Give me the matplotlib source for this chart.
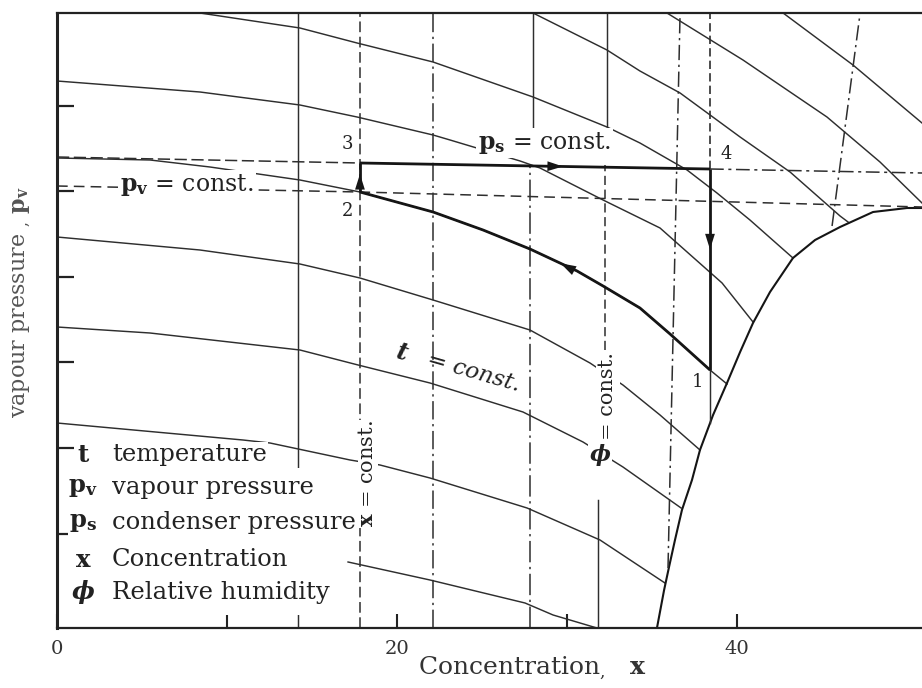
import matplotlib
matplotlib.use("Agg")
import matplotlib.pyplot as plt
from matplotlib.patches import Rectangle

plt.rcParams['font.family'] = ['DejaVu Serif']
plt.rcParams['mathtext.fontset'] = 'dejavuserif'

# ---------------- data (concentration x, vapour pressure in arbitrary units) ----------------
x_major = [0, 20, 40]
x_major_labels = ['0', '20', '40']
x_minor = [10, 30]
p_ticks = [19.45, 28.0, 36.55, 45.1, 53.65, 62.2]
x_range = (0, 50.88)
p_range = (10.0, 71.5)

# isotherms t = const
iso1_x = [5.47, 8.41, 14.29, 17.65, 22.12, 28.00, 32.35, 34.29, 37.06, 38.82, 40.76, 43.29]
iso1_y = [72.2, 71.5, 70.0, 68.5, 66.6, 63.1, 60.1, 58.5, 55.8, 53.5, 50.8, 47.0]
iso2_x = [0, 8.41, 14.29, 17.65, 22.12, 23.12, 27.24, 28.41, 32.12, 35.47, 39.12, 40.94]
iso2_y = [64.7, 63.6, 62.3, 61.1, 59.3, 58.8, 56.7, 56.0, 52.8, 50.0, 44.5, 40.6]
iso3_x = [0, 5.47, 9.00, 14.29, 17.82, 22.12, 25.06, 27.82, 30.59, 32.12, 34.29, 36.06, 38.41, 39.41]
iso3_y = [57.0, 56.8, 56.1, 54.8, 53.6, 51.6, 49.8, 47.9, 45.7, 44.2, 42.0, 39.4, 35.8, 34.4]
iso4_x = [0, 8.41, 14.29, 17.82, 22.12, 27.82, 31.35, 33.29, 35.47, 37.82]
iso4_y = [49.1, 47.8, 46.4, 45.0, 42.8, 39.8, 36.5, 34.3, 31.3, 27.8]
iso5_x = [0, 5.47, 14.29, 17.71, 21.94, 27.41, 30.94, 33.29, 36.71]
iso5_y = [40.1, 39.5, 37.8, 36.3, 34.5, 31.6, 28.6, 26.1, 22.0]
iso6_x = [0, 10.94, 12.53, 17.24, 19.00, 21.94, 27.65, 31.94, 35.76]
iso6_y = [30.5, 28.8, 28.5, 26.8, 26.3, 25.0, 22.0, 18.8, 14.5]
iso7_x = [17.12, 21.94, 27.53, 29.18, 31.76]
iso7_y = [16.6, 14.8, 12.5, 11.3, 10.0]
isoA_x = [26.24, 28.00, 32.35, 34.29, 36.65, 40.18, 43.12, 46.06, 46.53]
isoA_y = [73.0, 71.5, 67.8, 65.7, 63.5, 59.1, 55.6, 51.2, 50.6]
isoB_x = [34.12, 35.88, 40.35, 45.29, 48.41, 50.88]
isoB_y = [73.4, 71.5, 66.8, 61.1, 56.6, 52.5]
isoC_x = [40.94, 42.71, 46.82, 50.88]
isoC_y = [73.7, 71.5, 66.3, 60.5]

# saturation (crystallisation) boundary
sat_x = [35.29, 35.71, 36.00, 36.35, 36.76, 37.35, 37.82, 38.59, 39.41, 40.18, 40.94,
         41.94, 43.29, 44.59, 46.06, 48.00, 50.00, 50.88]
sat_y = [10.0, 13.8, 16.1, 18.8, 21.8, 24.8, 27.8, 31.3, 34.5, 37.6, 40.5,
         43.6, 47.0, 48.8, 50.1, 51.6, 52.0, 52.0]

# x = const lines (x at both ends, y at both ends)
xc_solid1 = ([14.18, 14.18], [10.0, 71.5])
xc_dashed = ([17.82, 17.82], [10.0, 71.5])
xc_dashdot1 = ([22.12, 22.12], [10.0, 71.5])
xc4_top = ([28.00, 28.00], [60.0, 71.5])
xc4_low = ([27.80, 27.80], [10.0, 56.2])
xc5_top = ([32.35, 32.35], [60.0, 71.5])
xc5_mid = ([32.24, 32.24], [37.8, 56.3])
xc5_low = ([31.82, 31.82], [10.0, 22.8])
xc6 = ([35.94, 36.65], [16.0, 71.5])
xc7_top = ([38.41, 38.41], [55.9, 71.5])
xc7_low = ([38.41, 38.41], [30.5, 35.8])
xc8 = ([45.59, 47.24], [50.2, 71.5])

# p = const lines
ps_x = [0, 17.82, 38.41, 50.88]
ps_y = [57.1, 56.5, 55.9, 55.5]
pv_x = [0, 17.82, 50.88]
pv_y = [54.2, 53.6, 52.1]

# cycle state points 1, 2, 3, 4
state_labels = ['1', '2', '3', '4']
state_x = [38.41, 17.82, 17.82, 38.41]
state_y = [35.8, 53.6, 56.5, 55.9]
iso3_idx_state2 = 4
iso3_idx_state1 = 12
iso3_idx_arrow = 8

legend_symbols = ['t', 'p_v', 'p_s', 'x', 'ϕ']
legend_names = ['temperature', 'vapour pressure', 'condenser pressure',
                'Concentration', 'Relative humidity']
legend_rows_y = [27.3, 24.0, 20.5, 16.8, 13.6]

# ---------------- drawing ----------------
C = '#2e2e2e'
CK = '#151515'
fig = plt.figure(figsize=(9.22, 6.88), dpi=100)
ax = fig.add_axes([57 / 922, 60 / 688, 865 / 922, 615 / 688])
ax.set_xlim(*x_range)
ax.set_ylim(*p_range)

thin = dict(color=C, lw=1.05)
for xs, ys in [(iso1_x, iso1_y), (iso2_x, iso2_y), (iso3_x, iso3_y), (iso4_x, iso4_y),
               (iso5_x, iso5_y), (iso6_x, iso6_y), (iso7_x, iso7_y),
               (isoA_x, isoA_y), (isoB_x, isoB_y), (isoC_x, isoC_y)]:
    ax.plot(xs, ys, **thin)

ax.plot(sat_x, sat_y, color=CK, lw=1.5)

ax.plot(*xc_solid1, **thin)
ax.plot(*xc_dashed, color=C, lw=1.1, dashes=(7, 3))
ax.plot(*xc_dashdot1, color=C, lw=1.1, dashes=(12, 3, 1.5, 3))
ax.plot(*xc4_top, **thin)
ax.plot(*xc4_low, color=C, lw=1.1, dashes=(14, 3, 1.5, 3))
ax.plot(*xc5_top, **thin)
ax.plot(*xc5_mid, color=C, lw=1.1, dashes=(6, 3))
ax.plot(*xc5_low, **thin)
ax.plot(*xc6, color=C, lw=1.1, dashes=(10, 3, 1.5, 3))
ax.plot(*xc7_top, color=C, lw=1.2, dashes=(5, 2.5))
ax.plot(*xc7_low, **thin)
ax.plot(*xc8, color=C, lw=1.1, dashes=(10, 3, 1.5, 3))

# p_s = const and p_v = const
ax.plot(ps_x[:2], ps_y[:2], color=C, lw=1.1, dashes=(8, 3))
ax.plot(ps_x[2:], ps_y[2:], color=C, lw=1.1, dashes=(9, 3, 2, 3))
ax.plot(pv_x, pv_y, color=C, lw=1.1, dashes=(7, 4))

# cycle (thick)
thick = dict(color=CK, lw=2.0, solid_capstyle='butt', zorder=4)
ax.plot(iso3_x[iso3_idx_state2:iso3_idx_state1 + 1],
        iso3_y[iso3_idx_state2:iso3_idx_state1 + 1], **thick)
ax.plot(state_x[1:3], state_y[1:3], **thick)
ax.plot(state_x[2:4], state_y[2:4], **thick)
ax.plot([state_x[3], state_x[0]], [state_y[3], state_y[0]], **thick)

arrow_kw = dict(arrowstyle='-|>,head_length=0.7,head_width=0.22', color=CK,
                lw=0, shrinkA=0, shrinkB=0, mutation_scale=16)


def seg_arrow(a, b, f):
    xa, ya = state_x[a], state_y[a]
    xb, yb = state_x[b], state_y[b]
    tip = (xa + f * (xb - xa), ya + f * (yb - ya))
    tail = (xa + (f - 0.08) * (xb - xa), ya + (f - 0.08) * (yb - ya))
    ax.annotate('', xy=tip, xytext=tail, arrowprops=arrow_kw, zorder=5)


seg_arrow(1, 2, 0.62)
seg_arrow(2, 3, 0.58)
seg_arrow(3, 0, 0.40)
i = iso3_idx_arrow
ax.annotate('', xy=(iso3_x[i] - 0.35 * (iso3_x[i] - iso3_x[i - 1]),
                    iso3_y[i] - 0.35 * (iso3_y[i] - iso3_y[i - 1])),
            xytext=(iso3_x[i + 1], iso3_y[i + 1]), arrowprops=arrow_kw, zorder=5)

offsets = [(-9, -9), (-9, -14), (-9, 14), (12, 11)]
for lab, sx, sy, off in zip(state_labels, state_x, state_y, offsets):
    ax.annotate(lab, (sx, sy), xytext=off, textcoords='offset points',
                ha='center', va='center', fontsize=13, color='#222', zorder=6)

white = dict(facecolor='white', edgecolor='none', pad=1.5)
ax.text(24.76, 58.5, r'$\mathbf{p}_{\mathbf{s}}$ = const.', fontsize=17, color='#222',
        ha='left', va='center', bbox=white, zorder=6)
ax.text(3.71, 54.3, r'$\mathbf{p}_{\mathbf{v}}$ = const.', fontsize=17, color='#222',
        ha='left', va='center', bbox=white, zorder=6)
ax.text(20.29, 37.5, 't', fontsize=17, fontweight='bold', fontstyle='italic', color='#222',
        rotation=-16, ha='center', va='center', zorder=6)
ax.text(24.53, 35.6, '= const.', fontsize=16.5, fontstyle='italic', color='#222',
        rotation=-16, ha='center', va='center', zorder=6)
ax.text(18.29, 25.4, r'$\mathbf{x}$ = const.', fontsize=15, color='#222', rotation=90,
        ha='center', va='center', bbox=dict(facecolor='white', edgecolor='none', pad=0.5), zorder=6)
ax.text(31.94, 27.3, 'ϕ', fontsize=16, fontweight='bold', fontstyle='italic', color='#222',
        ha='center', va='center', bbox=dict(facecolor='white', edgecolor='none', pad=1.0), zorder=6)
ax.text(32.41, 33.2, '= const.', fontsize=15, color='#222', rotation=90,
        ha='center', va='center', bbox=dict(facecolor='white', edgecolor='none', pad=1.5), zorder=6)

# legend block
ax.add_patch(Rectangle((0.0127, 0.021), 0.323, 0.239, transform=ax.transAxes,
                       facecolor='white', edgecolor='none', zorder=5))
for sym, name, ry in zip(legend_symbols, legend_names, legend_rows_y):
    if '_' in sym:
        base, sub = sym.split('_')
        ax.text(1.53, ry, r'$\mathbf{%s}_{\mathbf{%s}}$' % (base, sub), fontsize=17.5,
                color='#222', ha='center', va='center', zorder=6)
    else:
        ax.text(1.53, ry, sym, fontsize=17.5, fontweight='bold',
                fontstyle='italic' if sym == 'ϕ' else 'normal',
                color='#222', ha='center', va='center', zorder=6)
    ax.text(3.24, ry, name, fontsize=17.5, color='#222', ha='left', va='center',
            bbox=dict(facecolor='white', edgecolor='none', pad=1.0), zorder=6)

# axes styling
ax.spines['right'].set_visible(False)
ax.spines['left'].set_linewidth(2.2)
ax.spines['top'].set_linewidth(1.6)
ax.spines['bottom'].set_linewidth(1.6)
for s in ['left', 'top', 'bottom']:
    ax.spines[s].set_color('#222')

ax.set_xticks(x_major)
ax.set_xticklabels(x_major_labels)
ax.set_xticks(x_minor, minor=True)
ax.set_yticks(p_ticks)
ax.tick_params(axis='y', direction='in', length=12, width=1.6, color='#222',
               labelleft=False, right=False)
ax.tick_params(axis='x', which='both', direction='in', length=10, width=1.5, color='#222',
               top=False, pad=9, labelsize=14, labelcolor='#333')

fig.text(0.577, 0.029, r'Concentration$_{,}$   $\mathbf{x}$', fontsize=18, color='#333',
         ha='center', va='center')
fig.text(0.024, 0.561, r'vapour pressure $_{,}$ $\mathbf{p}_{\mathbf{v}}$', fontsize=16,
         color='#555', rotation=90, ha='center', va='center')

fig.savefig('out.png', dpi=100, facecolor='white')
